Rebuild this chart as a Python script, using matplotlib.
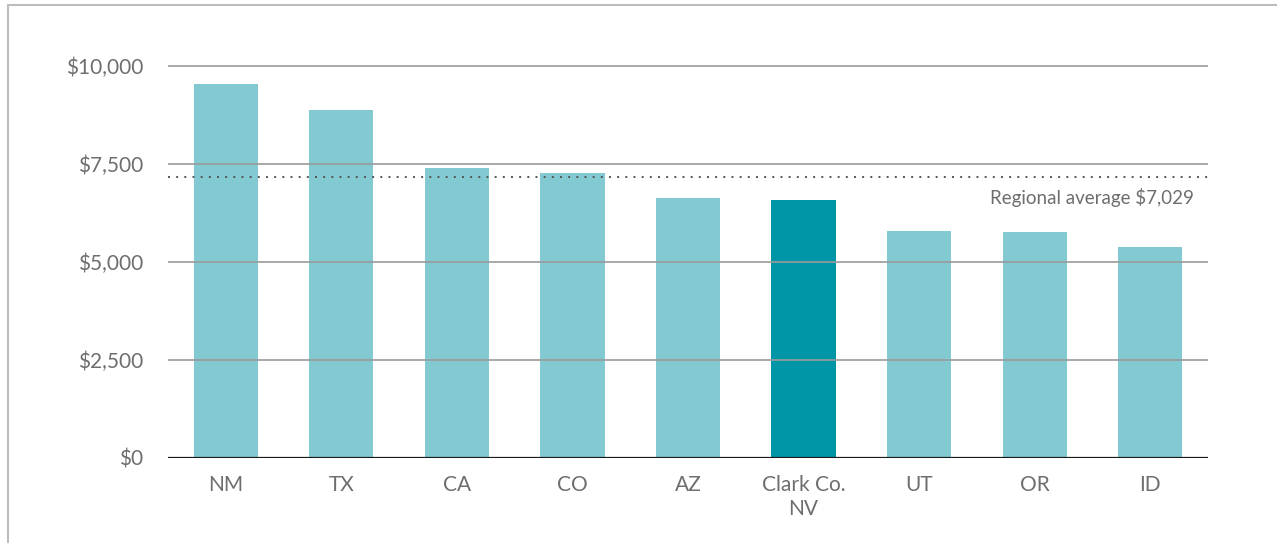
import matplotlib.pyplot as plt
from matplotlib.patches import Rectangle

# data
states = ["NM", "TX", "CA", "CO", "AZ", "Clark Co.\nNV", "UT", "OR", "ID"]
costs = [9550, 8880, 7400, 7270, 6630, 6580, 5790, 5760, 5375]
highlight = "Clark Co.\nNV"
avg_line = 7176
avg_label = "Regional average $7,029"
yticks = [0, 2500, 5000, 7500, 10000]
ytick_labels = ["$0", "$2,500", "$5,000", "$7,500", "$10,000"]

plt.rcParams['font.family'] = ['Lato', 'DejaVu Sans']
text_color = "#6e6e6e"

fig = plt.figure(figsize=(12.77, 5.43), dpi=100)
ax = fig.add_axes([168 / 1277, 1 - 458 / 543, 1040 / 1277, 411.6 / 543])

colors = ["#0096a8" if s == highlight else "#82c9d1" for s in states]
ax.bar(range(len(states)), costs, width=0.555, color=colors, zorder=2)

ax.set_xlim(-0.5, len(states) - 0.5)
ax.set_ylim(0, 10500)
ax.set_yticks(yticks)
ax.set_yticklabels(ytick_labels)
ax.set_xticks(range(len(states)))
ax.set_xticklabels(states, linespacing=1.3)

for y in yticks[1:]:
    ax.axhline(y, color="#9a9a9a", lw=1.2, zorder=3)
ax.axhline(0, color="#1a1a1a", lw=1.6, zorder=4)

ax.axhline(avg_line, color="#555555", lw=1.4, ls=(0, (1, 3.2)), zorder=4)
ax.text(len(states) - 0.62, avg_line - 300, avg_label, ha="right", va="top",
        fontsize=13.5, color=text_color)

for s in ax.spines.values():
    s.set_visible(False)
ax.tick_params(axis="both", length=0, colors=text_color)
ax.tick_params(axis="y", pad=18, labelsize=15)
ax.tick_params(axis="x", pad=12, labelsize=15)

# frame around the figure (cut off at right and bottom)
fig.patches.append(Rectangle((8 / 1277, -0.1), 1.2, 1 - 5 / 543 + 0.1,
                             transform=fig.transFigure, fill=False,
                             edgecolor="#bdbdbd", lw=1.5))

plt.savefig("out.png", dpi=100)
